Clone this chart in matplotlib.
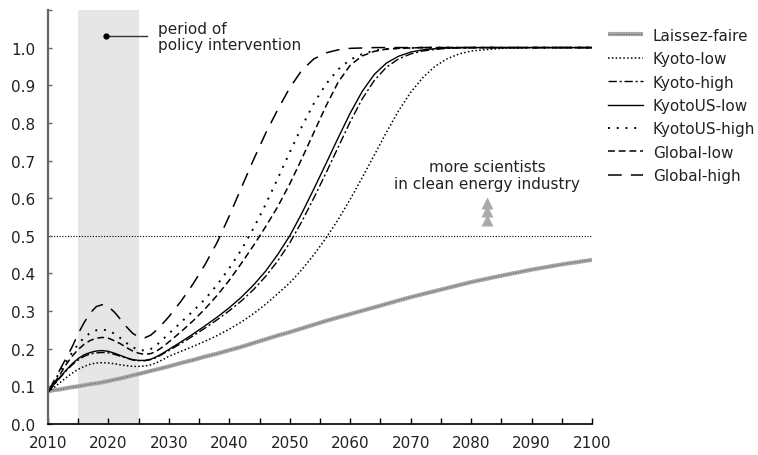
import numpy as np
import matplotlib
matplotlib.use("Agg")
import matplotlib.pyplot as plt
from matplotlib.legend_handler import HandlerTuple

plt.rcParams['font.family'] = ['DejaVu Sans']

# common year grid
years = list(range(2010, 2031)) + list(range(2032, 2081, 2)) + [2085, 2090, 2095, 2100]

laissez_faire = [0.087, 0.090, 0.092, 0.095, 0.098, 0.100, 0.103, 0.106, 0.108, 0.111,
                 0.114, 0.118, 0.121, 0.125, 0.129, 0.133, 0.137, 0.141, 0.145, 0.149, 0.153,
                 0.162, 0.170, 0.179, 0.187, 0.196, 0.205, 0.215, 0.225, 0.235, 0.244,
                 0.254, 0.264, 0.274, 0.283, 0.292, 0.301, 0.310, 0.319, 0.328, 0.337,
                 0.345, 0.353, 0.361, 0.369, 0.377,
                 0.394, 0.410, 0.424, 0.436]

kyoto_low = [0.085, 0.097, 0.110, 0.123, 0.135, 0.145, 0.153, 0.159, 0.162, 0.163,
             0.162, 0.160, 0.157, 0.155, 0.153, 0.153, 0.154, 0.157, 0.163, 0.171, 0.180,
             0.193, 0.206, 0.220, 0.235, 0.252, 0.271, 0.293, 0.318, 0.346, 0.375,
             0.410, 0.450, 0.494, 0.543, 0.597, 0.655, 0.715, 0.775, 0.832, 0.881,
             0.920, 0.950, 0.970, 0.983, 0.991,
             0.998, 1.0, 1.0, 1.0]

kyoto_high = [0.085, 0.104, 0.123, 0.141, 0.157, 0.170, 0.180, 0.186, 0.189, 0.190,
              0.189, 0.185, 0.180, 0.175, 0.170, 0.168, 0.168, 0.171, 0.177, 0.186, 0.195,
              0.214, 0.234, 0.255, 0.277, 0.301, 0.327, 0.357, 0.392, 0.433, 0.481,
              0.538, 0.601, 0.667, 0.735, 0.803, 0.864, 0.913, 0.948, 0.970, 0.983,
              0.991, 0.995, 0.998, 0.999, 1.0,
              1.0, 1.0, 1.0, 1.0]

kyotous_low = [0.085, 0.105, 0.125, 0.143, 0.160, 0.174, 0.184, 0.190, 0.194, 0.195,
               0.193, 0.188, 0.182, 0.176, 0.171, 0.169, 0.169, 0.172, 0.179, 0.188, 0.198,
               0.218, 0.239, 0.261, 0.284, 0.309, 0.337, 0.369, 0.406, 0.450, 0.500,
               0.560, 0.625, 0.692, 0.760, 0.826, 0.884, 0.929, 0.959, 0.977, 0.988,
               0.994, 0.997, 0.999, 1.0, 1.0,
               1.0, 1.0, 1.0, 1.0]

kyotous_high = [0.085, 0.112, 0.140, 0.165, 0.190, 0.212, 0.230, 0.242, 0.249, 0.251,
                0.248, 0.240, 0.228, 0.215, 0.204, 0.197, 0.195, 0.199, 0.210, 0.225, 0.240,
                0.270, 0.300, 0.332, 0.370, 0.414, 0.463, 0.520, 0.583, 0.652, 0.722,
                0.790, 0.852, 0.903, 0.942, 0.968, 0.983, 0.992, 0.996, 0.998, 0.999,
                1.0, 1.0, 1.0, 1.0, 1.0,
                1.0, 1.0, 1.0, 1.0]

global_low = [0.085, 0.108, 0.132, 0.158, 0.180, 0.198, 0.212, 0.222, 0.228, 0.230,
              0.228, 0.221, 0.213, 0.203, 0.194, 0.188, 0.185, 0.187, 0.194, 0.205, 0.218,
              0.245, 0.274, 0.306, 0.342, 0.382, 0.427, 0.474, 0.524, 0.577, 0.638,
              0.705, 0.775, 0.845, 0.908, 0.953, 0.978, 0.990, 0.996, 0.998, 0.999,
              1.0, 1.0, 1.0, 1.0, 1.0,
              1.0, 1.0, 1.0, 1.0]

global_high = [0.085, 0.115, 0.145, 0.175, 0.205, 0.240, 0.270, 0.295, 0.312, 0.317,
               0.312, 0.297, 0.278, 0.258, 0.241, 0.231, 0.229, 0.236, 0.250, 0.267, 0.285,
               0.326, 0.372, 0.424, 0.483, 0.553, 0.628, 0.702, 0.772, 0.835, 0.893,
               0.940, 0.970, 0.986, 0.994, 0.998, 0.999, 1.0, 1.0, 1.0, 1.0,
               1.0, 1.0, 1.0, 1.0, 1.0,
               1.0, 1.0, 1.0, 1.0]

policy_period = (2015, 2025)
threshold = 0.5
arrow_x = 2082.7
arrow_ys = [0.588, 0.566, 0.543]

txt = '#222222'
fs = 11

fig = plt.figure(figsize=(7.58, 4.56), dpi=100)
ax = fig.add_axes([0.0633, 0.068, 0.7177, 0.908])

ax.axvspan(*policy_period, color='#e6e6e6', lw=0, zorder=0)
ax.axhline(threshold, color='black', lw=0.8, ls=(0, (1, 1.5)), zorder=1)

lf_base, = ax.plot(years, laissez_faire, color='#a8a8a8', lw=3, solid_capstyle='butt', zorder=2)
lf_top, = ax.plot(years, laissez_faire, color='#6e6e6e', lw=0.9, ls=(0, (1, 1)), zorder=2)
h_kl, = ax.plot(years, kyoto_low, color='black', lw=1.1, ls=(0, (1, 1.5)))
h_kh, = ax.plot(years, kyoto_high, color='black', lw=1, ls=(0, (6, 2, 1.5, 2)))
h_kul, = ax.plot(years, kyotous_low, color='black', lw=1)
h_kuh, = ax.plot(years, kyotous_high, color='black', lw=1.4, ls=(0, (1, 3.5)))
h_gl, = ax.plot(years, global_low, color='black', lw=1.1, ls=(0, (4.5, 2.5)))
h_gh, = ax.plot(years, global_high, color='black', lw=1.1, ls=(0, (9, 6)))

# annotation for the policy band
ax.plot([2019.6, 2026.4], [1.03, 1.03], color='#333333', lw=1)
ax.plot([2019.6], [1.03], 'o', color='black', ms=3.5)
ax.text(2028.2, 1.03, 'period of\npolicy intervention', fontsize=fs, color=txt,
        va='center', ha='left', linespacing=1.1)

ax.text(arrow_x, 0.662, 'more scientists\nin clean energy industry', fontsize=fs,
        color=txt, ha='center', va='center', linespacing=1.15)
ax.plot([arrow_x] * len(arrow_ys), arrow_ys, '^', color='#aaaaaa', ms=8, mec='none')

ax.set_xlim(2010, 2100)
ax.set_ylim(0, 1.1)
ax.set_xticks(range(2010, 2101, 10))
ax.set_xticks(range(2015, 2100, 10), minor=True)
ax.set_yticks(np.round(np.arange(0, 1.11, 0.1), 1))
ax.set_yticklabels([f'{v:.1f}' for v in np.arange(0, 1.01, 0.1)] + [''])
ax.tick_params(axis='x', which='both', direction='in', length=4, width=1, pad=8,
               labelsize=fs, labelcolor=txt)
ax.tick_params(axis='y', direction='in', length=3, width=1, pad=9,
               labelsize=fs, labelcolor=txt, color='#666666')

for s in ['top', 'right']:
    ax.spines[s].set_visible(False)
ax.spines['left'].set_color('#666666')
ax.spines['left'].set_linewidth(1.6)
ax.spines['bottom'].set_color('black')
ax.spines['bottom'].set_linewidth(1.2)

handles = [(lf_base, lf_top), h_kl, h_kh, h_kul, h_kuh, h_gl, h_gh]
labels = ['Laissez-faire', 'Kyoto-low', 'Kyoto-high', 'KyotoUS-low', 'KyotoUS-high',
          'Global-low', 'Global-high']
fig.legend(handles, labels, loc='upper left', bbox_to_anchor=(0.802, 0.937),
           frameon=False, fontsize=fs, handlelength=2.3, handletextpad=0.65,
           labelspacing=0.55, borderaxespad=0, borderpad=0,
           handler_map={tuple: HandlerTuple(ndivide=1, pad=0)}, labelcolor=txt)

fig.savefig('out.png', dpi=100)
